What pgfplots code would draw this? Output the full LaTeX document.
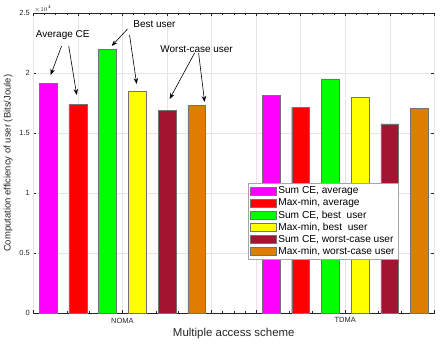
\documentclass[border=0pt]{standalone}
\usepackage{fontspec}
\setmainfont{Liberation Sans}
\usepackage{pgfplots}
\pgfplotsset{compat=1.18}
\usetikzlibrary{arrows.meta}

\definecolor{cmag}{rgb}{1,0,1}
\definecolor{cred}{rgb}{1,0,0}
\definecolor{cgreen}{rgb}{0,1,0}
\definecolor{cyellow}{rgb}{1,1,0}
\definecolor{cdred}{rgb}{0.635,0.078,0.184}
\definecolor{corange}{rgb}{0.871,0.490,0}
\definecolor{gridgray}{gray}{0.9}
\definecolor{axgray}{gray}{0.15}

\begin{document}
\begin{tikzpicture}
\path[use as bounding box] (-33.3bp,-32.7bp) rectangle (409.7bp,313.3bp);
\begin{axis}[
    at={(0,0)}, anchor=south west,
    scale only axis, width=401bp, height=300bp,
    xmin=0.6, xmax=2.4, ymin=0, ymax=25000,
    ybar, bar width=0.08,
    axis line style={axgray},
    tick pos=both, tick align=inside,
    major tick length=3bp, minor tick length=1.8bp,
    tick style={axgray, line width=0.4pt},
    xtick={1,2}, xticklabels={NOMA,TDMA},
    extra x ticks={0.6,0.8,1.2,1.4,1.6,1.8,2.2,2.4},
    extra x tick labels={},
    extra x tick style={grid=major},
    minor xtick={0.6,0.65,...,2.4},
    ytick={0,5000,10000,15000,20000,25000},
    scaled y ticks=base 10:-4,
    tick scale binop=\times,
    every y tick scale label/.style={at={(rel axis cs:0,1)}, anchor=south west,
        inner sep=1pt, font=\fontsize{6.5}{7.5}\selectfont, text=axgray},
    grid=major, major grid style={gridgray, line width=0.4pt},
    /pgf/number format/assume math mode=true,
    tick label style={font=\fontsize{7.5}{8.5}\selectfont, text=axgray},
    xticklabel style={yshift=-1bp},
    xlabel={Multiple access scheme},
    ylabel={Computation efficiency of user (Bits/Joule)},
    x label style={at={(axis description cs:0.5,-0.0667)}, anchor=center,
        font=\fontsize{11.5}{13}\selectfont, text=axgray},
    y label style={at={(axis description cs:-0.043,0.5)}, anchor=south,
        font=\fontsize{9.5}{11}\selectfont, text=axgray},
    legend style={at={(rel axis cs:0.536,0.435)}, anchor=north west,
        font=\fontsize{10.2}{11.5}\selectfont, draw=gray!70, fill=white,
        inner sep=1.5pt, row sep=-0.6pt, cells={anchor=west}},
    legend image code/.code={\draw[#1] (0bp,-4bp) rectangle (26bp,4bp);},
]
\addplot[fill=cmag, draw=black!55, bar shift=-0.3333] coordinates {(1,19170) (2,18190)};
\addplot[fill=cred, draw=black!55, bar shift=-0.2] coordinates {(1,17420) (2,17170)};
\addplot[fill=cgreen, draw=black!55, bar shift=-0.0667] coordinates {(1,22000) (2,19530)};
\addplot[fill=cyellow, draw=black!55, bar shift=0.0667] coordinates {(1,18520) (2,18000)};
\addplot[fill=cdred, draw=black!55, bar shift=0.2] coordinates {(1,16940) (2,15780)};
\addplot[fill=corange, draw=black!55, bar shift=0.3333] coordinates {(1,17330) (2,17080)};
\legend{{Sum CE, average}, {Max-min, average}, {Sum CE, best~ user},
    {Max-min, best~ user}, {Sum CE, worst-case user}, {Max-min, worst-case user}}

\node[font=\fontsize{10}{12}\selectfont] at (axis cs:0.732,23190) {Average CE};
\node[font=\fontsize{10}{12}\selectfont] at (axis cs:1.144,24108) {Best user};
\node[font=\fontsize{10}{12}\selectfont] at (axis cs:1.333,22025) {Worst-case user};
\begin{scope}[-{Stealth[length=6bp,width=4.5bp]}, line width=0.6pt]
\draw (axis cs:0.727,22275) -- (axis cs:0.678,19858);
\draw (axis cs:0.759,22275) -- (axis cs:0.795,18192);
\draw (axis cs:1.023,23692) -- (axis cs:0.952,22275);
\draw (axis cs:1.032,23192) -- (axis cs:1.064,19108);
\draw (axis cs:1.324,21692) -- (axis cs:1.212,17858);
\draw (axis cs:1.342,21692) -- (axis cs:1.369,17608);
\end{scope}
\end{axis}
\end{tikzpicture}
\end{document}
